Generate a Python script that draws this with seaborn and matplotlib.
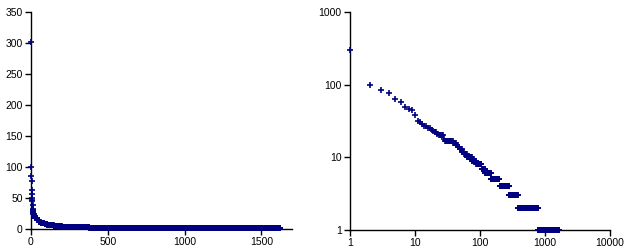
import matplotlib
matplotlib.use("Agg")
import matplotlib.pyplot as plt
import matplotlib.ticker as mticker
import seaborn as sns
import numpy as np
import pandas as pd

# Frequency values and how many consecutive ranks share each value
freq_values = [302, 100, 85, 78, 63, 57, 50, 46, 45, 38, 32, 31, 29, 27, 25, 24, 23, 22, 21,
               20, 18, 17, 16, 15, 14, 13, 12, 11, 10, 9, 8, 7, 6, 5, 4, 3, 2, 1]
run_counts = [1, 1, 1, 1, 1, 1, 1, 1, 1, 1, 1, 1, 1, 2, 2, 1, 1, 2, 1,
              5, 1, 10, 4, 3, 3, 4, 4, 6, 12, 13, 18, 14, 28, 52, 80, 100, 411, 835]

freq = np.repeat(freq_values, run_counts)
rank = np.arange(1, len(freq) + 1)
df = pd.DataFrame({"rank": rank, "freq": freq})

left_xticks = [0, 500, 1000, 1500]
left_yticks = [0, 50, 100, 150, 200, 250, 300, 350]
right_xticks = [1, 10, 100, 1000, 10000]
right_yticks = [1, 10, 100, 1000]

sns.set_theme(style="white")
plt.rcParams['font.family'] = ['Liberation Sans', 'DejaVu Sans']

fig = plt.figure(figsize=(6.24, 2.52), dpi=100)
ax1 = fig.add_axes([31/624, 23/252, 261/624, 217/252])
ax2 = fig.add_axes([350/624, 22/252, 260/624, 218/252])

navy = "#000080"
for ax in (ax1, ax2):
    sns.scatterplot(data=df, x="rank", y="freq", ax=ax, marker="+", color=navy,
                    s=14, linewidth=1.2, legend=False, zorder=3, clip_on=False)
    ax.set_xlabel("")
    ax.set_ylabel("")
    for side in ("top", "right"):
        ax.spines[side].set_visible(False)
    for side in ("left", "bottom"):
        ax.spines[side].set_color("black")
        ax.spines[side].set_linewidth(1.0)
    ax.tick_params(axis="both", which="major", direction="out", length=4, width=1,
                   color="black", labelsize=7.5, labelcolor="black", pad=2,
                   bottom=True, left=True)
    ax.tick_params(axis="both", which="minor", length=0)
    ax.grid(False)

ax1.set_xlim(0, 1700)
ax1.set_ylim(0, 350)
ax1.set_xticks(left_xticks)
ax1.set_yticks(left_yticks)

ax2.set_xscale("log")
ax2.set_yscale("log")
ax2.set_xlim(1, 10000)
ax2.set_ylim(1, 1000)
ax2.set_xticks(right_xticks)
ax2.set_yticks(right_yticks)
ax2.xaxis.set_major_formatter(mticker.FuncFormatter(lambda v, p: f"{int(round(v))}"))
ax2.yaxis.set_major_formatter(mticker.FuncFormatter(lambda v, p: f"{int(round(v))}"))
ax2.xaxis.set_minor_locator(mticker.NullLocator())
ax2.yaxis.set_minor_locator(mticker.NullLocator())

fig.savefig("out.png", dpi=100, facecolor="white")
